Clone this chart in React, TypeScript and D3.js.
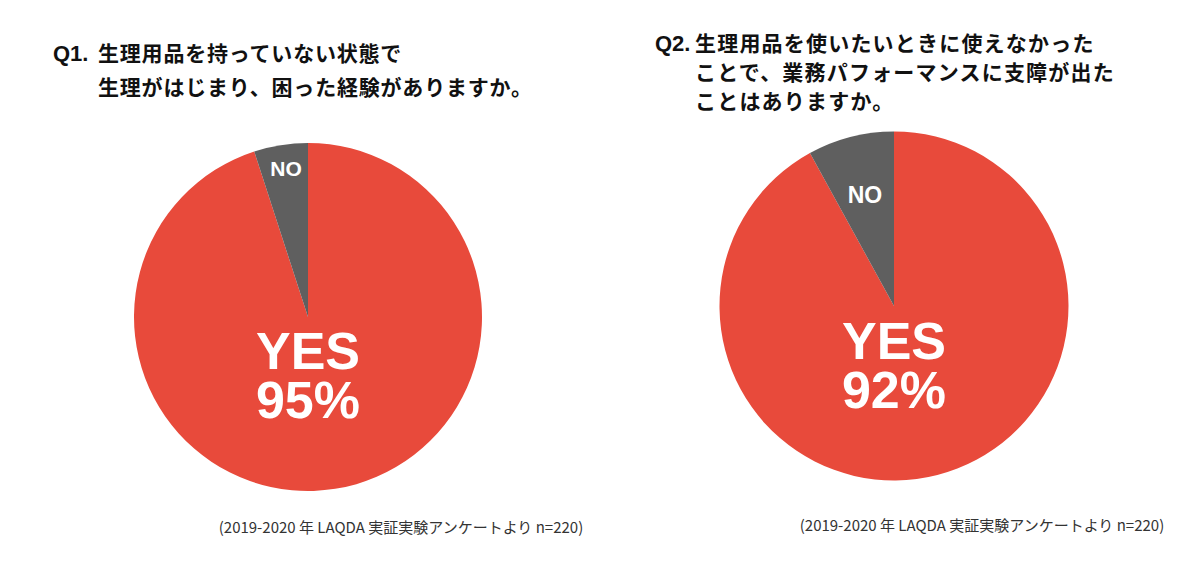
import React from "react";
import * as d3 from "d3";

const answers = ["YES", "NO"];
const q1Values = [95, 5];
const q2Values = [92, 8];
const q1Title = ["生理用品を持っていない状態で", "生理がはじまり、困った経験がありますか。"];
const q2Title = ["生理用品を使いたいときに使えなかった", "ことで、業務パフォーマンスに支障が出た", "ことはありますか。"];
const source = "(2019-2020 年 LAQDA 実証実験アンケートより n=220)";

const colors = d3.scaleOrdinal<string, string>().domain(answers).range(["#E84A3B", "#5F5F5F"]);

type PieProps = {
  values: number[];
  cx: number;
  cy: number;
  r: number;
  noLabel: [number, number];
  noSize: number;
  yesY: number;
};

function Pie({ values, cx, cy, r, noLabel, noSize, yesY }: PieProps) {
  const data = answers.map((a, i) => ({ a, v: values[i] }));
  const arcs = d3.pie<{ a: string; v: number }>().sort(null).value((d) => d.v)(data);
  const arcGen = d3.arc<d3.PieArcDatum<{ a: string; v: number }>>().innerRadius(0).outerRadius(r);
  return (
    <g transform={`translate(${cx},${cy})`}>
      {arcs.map((d) => (
        <path key={d.data.a} d={arcGen(d) || ""} fill={colors(d.data.a)} />
      ))}
      <text
        x={noLabel[0]}
        y={noLabel[1]}
        textAnchor="middle"
        fill="#fff"
        fontFamily="Liberation Sans, Arial, sans-serif"
        fontWeight={700}
        fontSize={noSize}
      >
        NO
      </text>
      <text x={0} y={yesY} textAnchor="middle" fill="#fff" fontFamily="Liberation Sans, Arial, sans-serif" fontWeight={700} fontSize={52}>
        <tspan x={0} dy={0}>YES</tspan>
        <tspan x={0} dy={49}>{values[0]}%</tspan>
      </text>
    </g>
  );
}

export default function App() {
  const jp = "'Noto Sans CJK JP', 'Noto Sans', sans-serif";
  return (
    <svg width={1200} height={562} style={{ position: "absolute", left: 0, top: 0, background: "#fff" }}>
      <rect width={1200} height={562} fill="#fff" />
      {/* Q1 title */}
      <text x={53} y={61} fontFamily="Liberation Sans, Arial, sans-serif" fontWeight={700} fontSize={22} fill="#111">
        Q1.
      </text>
      {q1Title.map((t, i) => (
        <text key={i} x={98} y={61 + i * 34} fontFamily={jp} fontWeight={700} fontSize={21} letterSpacing={0.8} fill="#111">
          {t}
        </text>
      ))}
      {/* Q2 title */}
      <text x={655} y={51} fontFamily="Liberation Sans, Arial, sans-serif" fontWeight={700} fontSize={22} fill="#111">
        Q2.
      </text>
      {q2Title.map((t, i) => (
        <text key={i} x={695} y={51 + i * 29} fontFamily={jp} fontWeight={700} fontSize={21} letterSpacing={1.2} fill="#111">
          {t}
        </text>
      ))}

      <Pie values={q1Values} cx={308} cy={317} r={174} noLabel={[-22, -141]} noSize={21} yesY={52} />
      <Pie values={q2Values} cx={894} cy={306} r={174.5} noLabel={[-29, -103]} noSize={23} yesY={53} />

      <text x={401} y={533} textAnchor="middle" fontFamily={jp} fontWeight={400} fontSize={15} fill="#333">
        {source}
      </text>
      <text x={982} y={531} textAnchor="middle" fontFamily={jp} fontWeight={400} fontSize={15} fill="#333">
        {source}
      </text>
    </svg>
  );
}
